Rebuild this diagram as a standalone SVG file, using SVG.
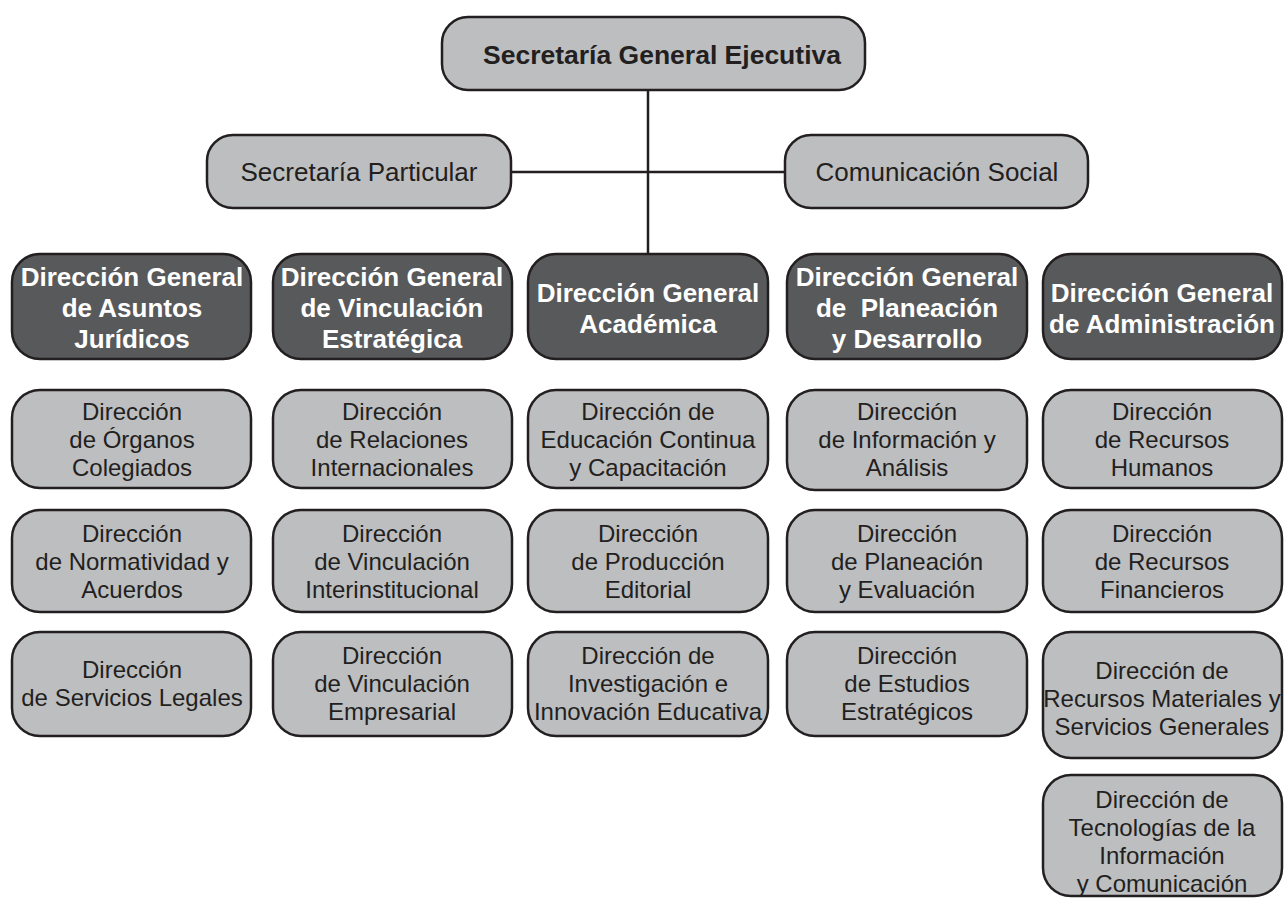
<svg xmlns="http://www.w3.org/2000/svg" width="1287" height="898" viewBox="0 0 1287 898">
<style>
.l{fill:#bcbec0;stroke:#231f20;stroke-width:2.5}
.d{fill:#58595b;stroke:#231f20;stroke-width:2.5}
.t{font-family:"Liberation Sans",Arial,sans-serif;font-size:24px;fill:#231f20;text-anchor:middle}
.b{font-family:"Liberation Sans",Arial,sans-serif;font-size:26px;font-weight:bold;fill:#ffffff;text-anchor:middle}
.bk{font-family:"Liberation Sans",Arial,sans-serif;font-size:26.5px;font-weight:bold;fill:#231f20;text-anchor:middle}
.s{font-family:"Liberation Sans",Arial,sans-serif;font-size:26px;fill:#231f20;text-anchor:middle}
.c{stroke:#231f20;stroke-width:2.5;fill:none}
</style>
<rect width="1287" height="898" fill="#ffffff"/>
<g id="connectors">
<line class="c" x1="648" y1="90" x2="648" y2="254"/>
<line class="c" x1="511" y1="172" x2="785" y2="172"/>
</g>
<g id="sge"><rect class="l" x="442" y="17" width="423" height="73" rx="26"/><text class="bk" x="662" y="64">Secretaría General Ejecutiva</text></g>
<g id="sp"><rect class="l" x="207" y="135" width="304" height="73" rx="26"/><text class="s" x="359" y="181">Secretaría Particular</text></g>
<g id="cs"><rect class="l" x="785" y="135" width="303" height="73" rx="26"/><text class="s" x="937" y="181">Comunicación Social</text></g>

<g id="dg1"><rect class="d" x="12" y="254" width="239" height="105" rx="28"/><text class="b"><tspan x="132" y="286">Dirección General</tspan><tspan x="132" y="317">de Asuntos</tspan><tspan x="132" y="348">Jurídicos</tspan></text></g>
<g id="dg2"><rect class="d" x="273" y="254" width="239" height="105" rx="28"/><text class="b"><tspan x="392" y="286">Dirección General</tspan><tspan x="392" y="317">de Vinculación</tspan><tspan x="392" y="348">Estratégica</tspan></text></g>
<g id="dg3"><rect class="d" x="528" y="254" width="240" height="105" rx="28"/><text class="b"><tspan x="648" y="302">Dirección General</tspan><tspan x="648" y="333">Académica</tspan></text></g>
<g id="dg4"><rect class="d" x="787" y="254" width="240" height="105" rx="28"/><text class="b" xml:space="preserve"><tspan x="907" y="286">Dirección General</tspan><tspan x="907" y="317">de  Planeación</tspan><tspan x="907" y="348">y Desarrollo</tspan></text></g>
<g id="dg5"><rect class="d" x="1043" y="254" width="239" height="105" rx="28"/><text class="b"><tspan x="1162" y="302">Dirección General</tspan><tspan x="1162" y="333">de Administración</tspan></text></g>

<g id="c1r1"><rect class="l" x="12" y="390" width="239" height="98" rx="28"/><text class="t"><tspan x="132" y="420">Dirección</tspan><tspan x="132" y="448">de Órganos</tspan><tspan x="132" y="476">Colegiados</tspan></text></g>
<g id="c1r2"><rect class="l" x="12" y="510" width="239" height="102" rx="28"/><text class="t"><tspan x="132" y="542">Dirección</tspan><tspan x="132" y="570">de Normatividad y</tspan><tspan x="132" y="598">Acuerdos</tspan></text></g>
<g id="c1r3"><rect class="l" x="12" y="632" width="239" height="104" rx="28"/><text class="t"><tspan x="132" y="678">Dirección</tspan><tspan x="132" y="706">de Servicios Legales</tspan></text></g>

<g id="c2r1"><rect class="l" x="273" y="390" width="239" height="98" rx="28"/><text class="t"><tspan x="392" y="420">Dirección</tspan><tspan x="392" y="448">de Relaciones</tspan><tspan x="392" y="476">Internacionales</tspan></text></g>
<g id="c2r2"><rect class="l" x="273" y="510" width="239" height="102" rx="28"/><text class="t"><tspan x="392" y="542">Dirección</tspan><tspan x="392" y="570">de Vinculación</tspan><tspan x="392" y="598">Interinstitucional</tspan></text></g>
<g id="c2r3"><rect class="l" x="273" y="632" width="239" height="104" rx="28"/><text class="t"><tspan x="392" y="664">Dirección</tspan><tspan x="392" y="692">de Vinculación</tspan><tspan x="392" y="720">Empresarial</tspan></text></g>

<g id="c3r1"><rect class="l" x="528" y="390" width="240" height="98" rx="28"/><text class="t"><tspan x="648" y="420">Dirección de</tspan><tspan x="648" y="448">Educación Continua</tspan><tspan x="648" y="476">y Capacitación</tspan></text></g>
<g id="c3r2"><rect class="l" x="528" y="510" width="240" height="102" rx="28"/><text class="t"><tspan x="648" y="542">Dirección</tspan><tspan x="648" y="570">de Producción</tspan><tspan x="648" y="598">Editorial</tspan></text></g>
<g id="c3r3"><rect class="l" x="528" y="632" width="240" height="104" rx="28"/><text class="t"><tspan x="648" y="664">Dirección de</tspan><tspan x="648" y="692">Investigación e</tspan><tspan x="648" y="720">Innovación Educativa</tspan></text></g>

<g id="c4r1"><rect class="l" x="787" y="390" width="240" height="100" rx="28"/><text class="t"><tspan x="907" y="420">Dirección</tspan><tspan x="907" y="448">de Información y</tspan><tspan x="907" y="476">Análisis</tspan></text></g>
<g id="c4r2"><rect class="l" x="787" y="510" width="240" height="102" rx="28"/><text class="t"><tspan x="907" y="542">Dirección</tspan><tspan x="907" y="570">de Planeación</tspan><tspan x="907" y="598">y Evaluación</tspan></text></g>
<g id="c4r3"><rect class="l" x="787" y="632" width="240" height="104" rx="28"/><text class="t"><tspan x="907" y="664">Dirección</tspan><tspan x="907" y="692">de Estudios</tspan><tspan x="907" y="720">Estratégicos</tspan></text></g>

<g id="c5r1"><rect class="l" x="1043" y="390" width="239" height="98" rx="28"/><text class="t"><tspan x="1162" y="420">Dirección</tspan><tspan x="1162" y="448">de Recursos</tspan><tspan x="1162" y="476">Humanos</tspan></text></g>
<g id="c5r2"><rect class="l" x="1043" y="510" width="239" height="102" rx="28"/><text class="t"><tspan x="1162" y="542">Dirección</tspan><tspan x="1162" y="570">de Recursos</tspan><tspan x="1162" y="598">Financieros</tspan></text></g>
<g id="c5r3"><rect class="l" x="1043" y="632" width="239" height="126" rx="28"/><text class="t"><tspan x="1162" y="679">Dirección de</tspan><tspan x="1162" y="707">Recursos Materiales y</tspan><tspan x="1162" y="735">Servicios Generales</tspan></text></g>
<g id="c5r4"><rect class="l" x="1043" y="775" width="239" height="121" rx="28"/><text class="t"><tspan x="1162" y="808">Dirección de</tspan><tspan x="1162" y="836">Tecnologías de la</tspan><tspan x="1162" y="864">Información</tspan><tspan x="1162" y="892">y Comunicación</tspan></text></g>
</svg>
